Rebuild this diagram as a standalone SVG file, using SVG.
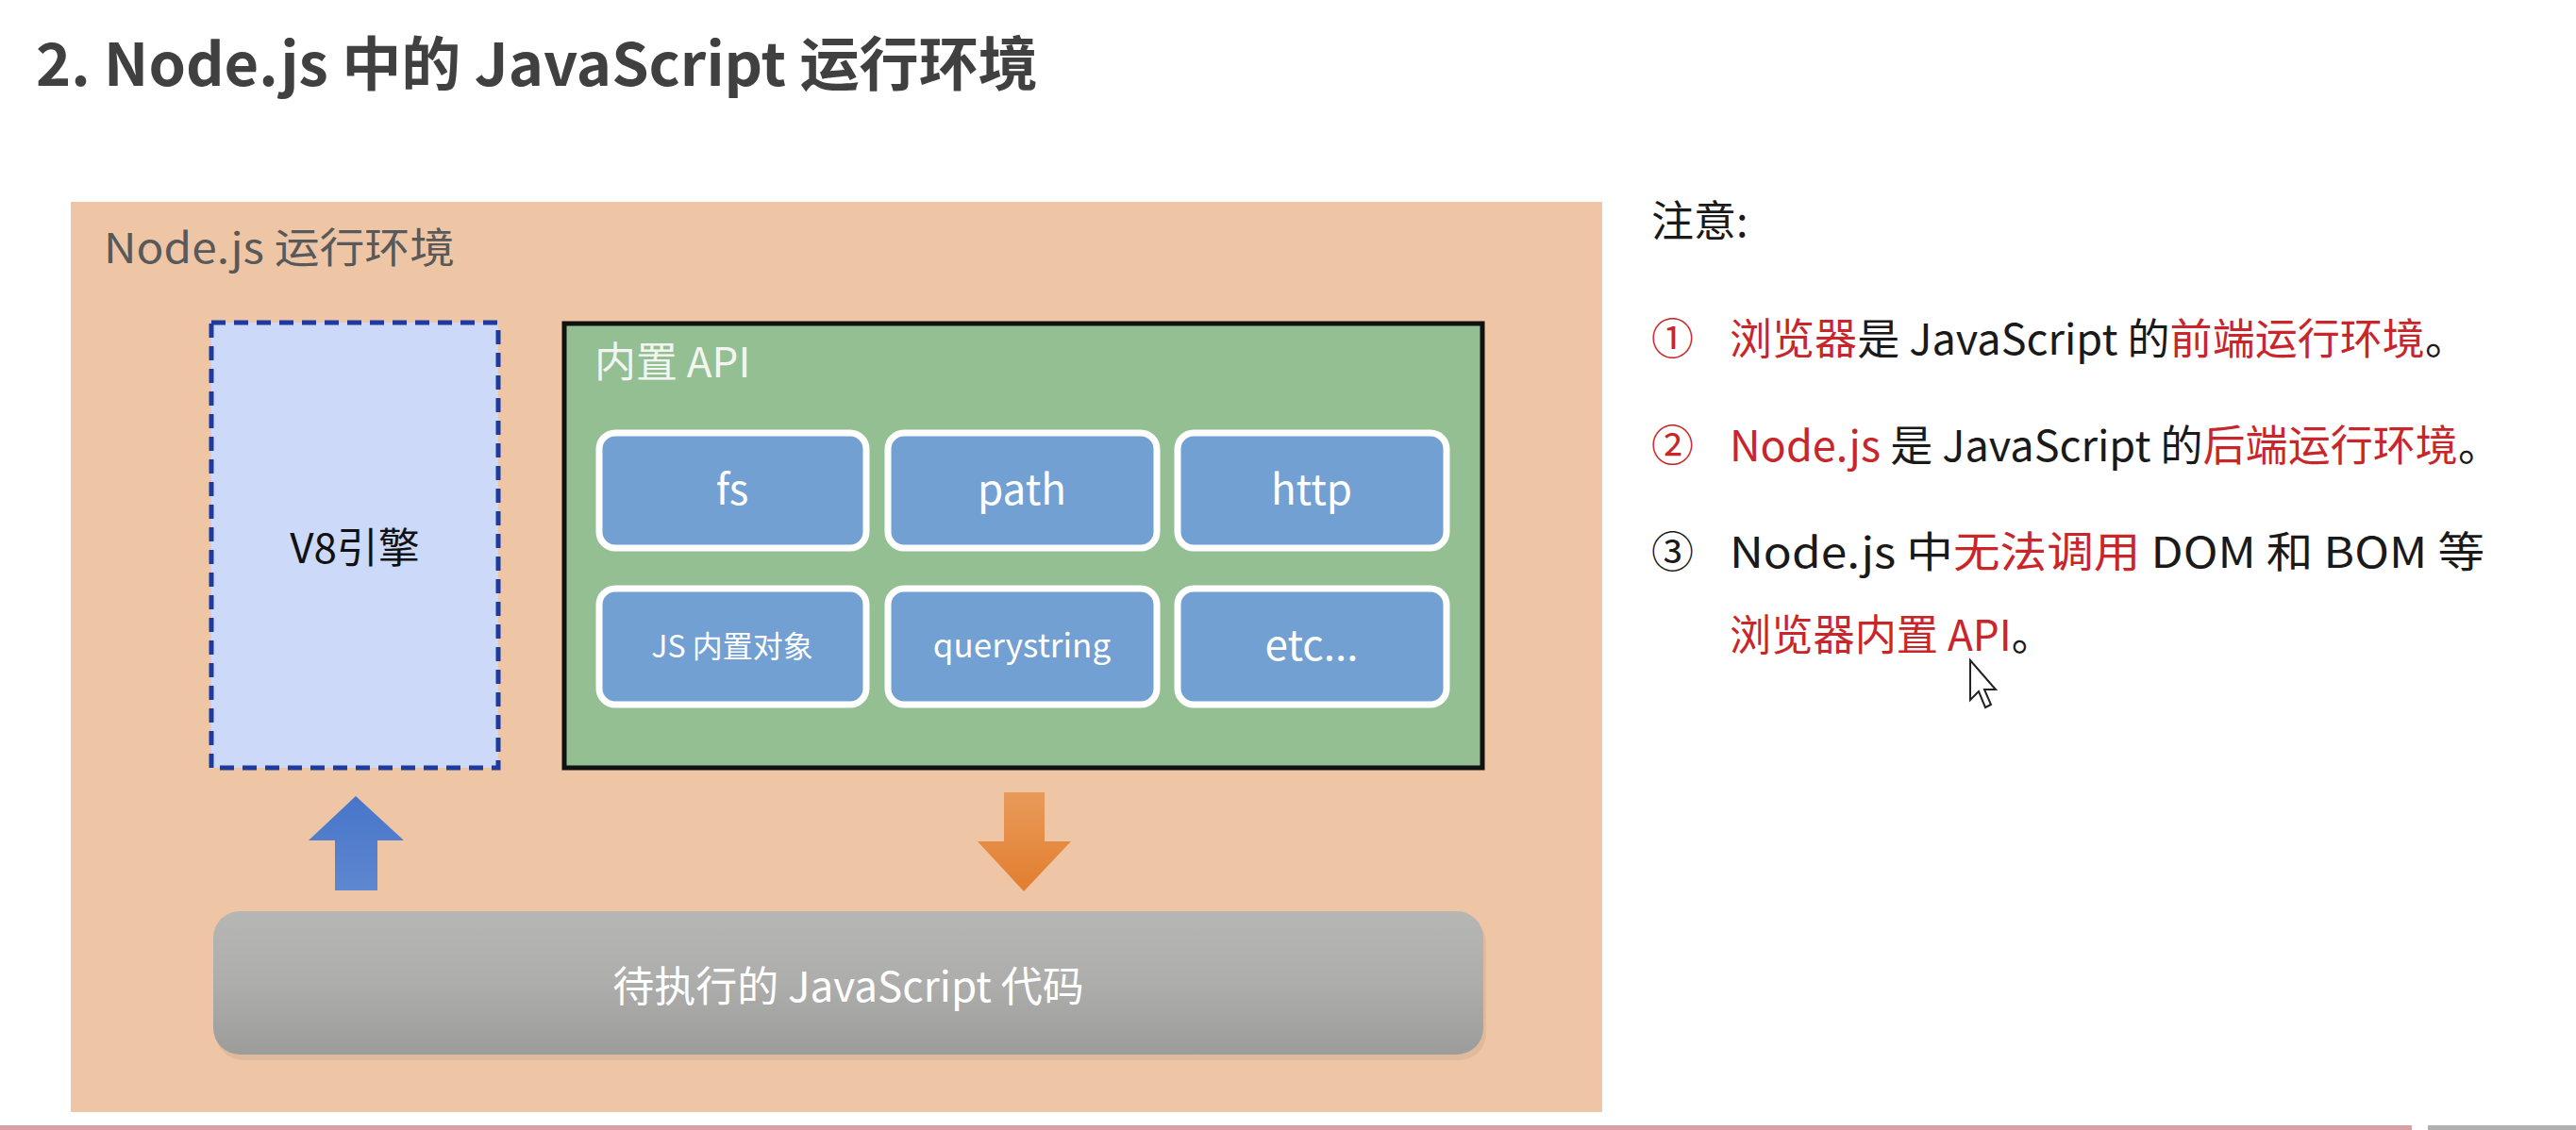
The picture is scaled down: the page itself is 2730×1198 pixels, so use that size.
<svg xmlns="http://www.w3.org/2000/svg" width="2730" height="1198" viewBox="0 0 2730 1198">
<style>
text{font-family:"Noto Sans CJK SC","Microsoft YaHei",sans-serif;}
.title{font-size:62px;font-weight:bold;fill:#404040;}
.lbl{font-size:44px;}
.btn{fill:#72A0D3;stroke:#FFFFFF;stroke-width:7;}
.btxt{fill:#FFFFFF;text-anchor:middle;}
.note{font-size:45px;fill:#1A1A1A;}
.red{fill:#C8262B;}
</style>
<defs>
<linearGradient id="gbar" x1="0" y1="0" x2="0" y2="1">
<stop offset="0" stop-color="#B6B6B4"/>
<stop offset="0.5" stop-color="#ADADAB"/>
<stop offset="1" stop-color="#9C9C9A"/>
</linearGradient>
<linearGradient id="gup" x1="0" y1="0" x2="0" y2="1">
<stop offset="0" stop-color="#4775C9"/>
<stop offset="1" stop-color="#5E87D0"/>
</linearGradient>
<linearGradient id="gdown" x1="0" y1="0" x2="0" y2="1">
<stop offset="0" stop-color="#E89A5A"/>
<stop offset="1" stop-color="#E27E2E"/>
</linearGradient>
</defs>
<rect x="0" y="0" width="2730" height="1198" fill="#FFFFFF"/>
<text class="title" x="38" y="91" textLength="1062" lengthAdjust="spacingAndGlyphs">2. Node.js 中的 JavaScript 运行环境</text>

<g id="runtime">
<rect x="75" y="214" width="1623" height="965" fill="#EEC6A6"/>
<text class="lbl" x="110" y="279" fill="#595959" textLength="372" lengthAdjust="spacingAndGlyphs">Node.js 运行环境</text>
</g>

<g id="v8">
<rect x="224" y="342" width="304" height="472" fill="#CCD9F8" stroke="#1F3A9E" stroke-width="5" stroke-dasharray="15,9"/>
<text class="lbl" x="376" y="597" text-anchor="middle" fill="#111111">V8引擎</text>
</g>

<g id="builtin-api">
<rect x="598" y="343" width="973" height="471" fill="#93BF93" stroke="#111111" stroke-width="5"/>
<text class="lbl" x="630" y="400" fill="#F2F5F0">内置 API</text>
</g>

<g id="fs"><rect class="btn" x="635" y="459" width="283" height="122" rx="17"/><text class="btxt lbl" x="776" y="535">fs</text></g>
<g id="path"><rect class="btn" x="941" y="459" width="285" height="122" rx="17"/><text class="btxt lbl" x="1083" y="535">path</text></g>
<g id="http"><rect class="btn" x="1248" y="459" width="285" height="122" rx="17"/><text class="btxt lbl" x="1390" y="535">http</text></g>
<g id="jsobj"><rect class="btn" x="635" y="624" width="283" height="123" rx="17"/><text class="btxt" x="776" y="697" font-size="32">JS 内置对象</text></g>
<g id="querystring"><rect class="btn" x="941" y="624" width="285" height="123" rx="17"/><text class="btxt" x="1083" y="697" font-size="35">querystring</text></g>
<g id="etc"><rect class="btn" x="1248" y="624" width="285" height="123" rx="17"/><text class="btxt lbl" x="1390" y="700">etc...</text></g>

<g id="code">
<rect x="229" y="972" width="1346" height="152" rx="28" fill="#000000" opacity="0.06"/>
<rect x="226" y="966" width="1346" height="152" rx="28" fill="url(#gbar)"/>
<text class="btxt lbl" x="899" y="1062">待执行的 JavaScript 代码</text>
</g>

<g id="connectors">
<polygon points="377,844 428,891 400,891 400,944 355,944 355,891 327,891" fill="url(#gup)"/>
<polygon points="1064,840 1107,840 1107,892 1135,892 1085,945 1036,892 1064,892" fill="url(#gdown)"/>
</g>

<g id="notes">
<text class="note" x="1750" y="251">注意:</text>
<text class="note red" x="1750" y="376">①</text>
<text class="note" x="1833" y="376" textLength="782" lengthAdjust="spacingAndGlyphs"><tspan class="red">浏览器</tspan>是 JavaScript 的<tspan class="red">前端运行环境</tspan>。</text>
<text class="note red" x="1750" y="489">②</text>
<text class="note" x="1833" y="489" textLength="817" lengthAdjust="spacingAndGlyphs"><tspan class="red">Node.js</tspan> 是 JavaScript 的<tspan class="red">后端运行环境</tspan>。</text>
<text class="note" x="1750" y="602">③</text>
<text class="note" x="1833" y="602" textLength="800" lengthAdjust="spacingAndGlyphs">Node.js 中<tspan class="red">无法调用</tspan> DOM 和 BOM 等</text>
<text class="note" x="1833" y="690" textLength="343" lengthAdjust="spacingAndGlyphs"><tspan class="red">浏览器内置 API</tspan>。</text>
</g>

<g id="cursor">
<path d="M2088,700 L2088,742 L2097,733 L2104,750 L2110,747 L2103,731 L2115,731 Z" fill="#FFFFFF" stroke="#222222" stroke-width="2"/>
</g>

<rect x="0" y="1193" width="2556" height="5" fill="#D8A0A0"/>
<rect x="2573" y="1193" width="157" height="5" fill="#B0B0B0"/>
</svg>
